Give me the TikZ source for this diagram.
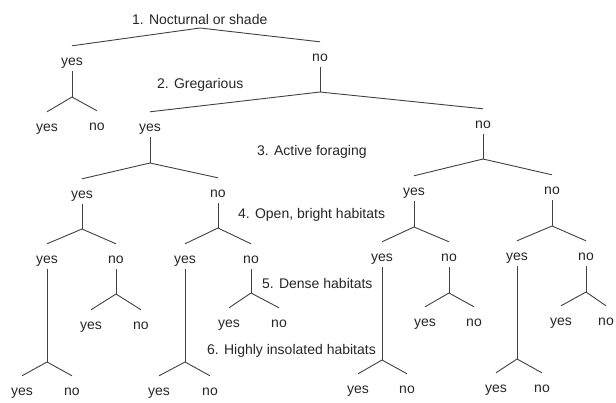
\documentclass[tikz,border=0pt]{standalone}
\usepackage{fontspec}
\setmainfont{Liberation Sans}
\usetikzlibrary{positioning}

\begin{document}
\begin{tikzpicture}[x=1pt,y=-1pt,-]
\tikzstyle{every edge}=[draw=black!75, line width=0.9pt]
\tikzstyle{answer}=[anchor=base, text=black!85, inner xsep=0pt, inner ysep=2pt,
                                    text height=17.5pt, text depth=3.5pt,
                                    font=\fontsize{14}{16}\selectfont]
\tikzstyle{question}=[anchor=base west, inner sep=0pt, text=black!85,
                                    font=\fontsize{14}{16}\selectfont]
\useasboundingbox (0,0) rectangle (616,402);
% questions
\node[question] (NOCT) at (132,24.5) {1. Nocturnal or shade};
\node[question] (GREG) at (157,88) {2. Gregarious};
\node[question] (FORAGE) at (257,155) {3. Active foraging};
\node[question] (OPEN) at (238,218) {4. Open, bright habitats};
\node[question] (DENSE) at (262,288) {5. Dense habitats};
\node[question] (SUN) at (207,354) {6. Highly insolated habitats};
% level 1
\coordinate (Q1) at (200,28);
\node[answer] (Y) at (72,65.5) {yes};
\node[answer] (N) at (320,61.5) {no};
% level 2
\coordinate (FY) at (72,97);
\node[answer] (YY) at (47,131.5) {yes};
\node[answer] (YN) at (97,130.5) {no};
\coordinate (FN) at (320,92);
\node[answer] (NY) at (150,131.5) {yes};
\node[answer] (NN) at (483,128.5) {no};
% level 3
\coordinate (FNY) at (150,163);
\node[answer] (NYY) at (82,198.5) {yes};
\node[answer] (NYN) at (218,197.5) {no};
\coordinate (FNN) at (483,159);
\node[answer] (NNY) at (414,195.5) {yes};
\node[answer] (NNN) at (552,194.5) {no};
% level 4
\coordinate (FNYY) at (82,229);
\node[answer] (NYYY) at (47,263.5) {yes};
\node[answer] (NYYN) at (116,263.5) {no};
\coordinate (FNYN) at (218,228);
\node[answer] (NYNY) at (185,263.5) {yes};
\node[answer] (NYNN) at (251,263.5) {no};
\coordinate (FNNY) at (414,227);
\node[answer] (NNYY) at (382,261.5) {yes};
\node[answer] (NNYN) at (449,261.5) {no};
\coordinate (FNNN) at (552,226);
\node[answer] (NNNY) at (517,260.5) {yes};
\node[answer] (NNNN) at (586,260.5) {no};
% level 5
\coordinate (FNYYY) at (47,362);
\node[answer] (NYYYY) at (22,395.5) {yes};
\node[answer] (NYYYN) at (72,395.5) {no};
\coordinate (FNYYN) at (116,294);
\node[answer] (NYYNY) at (91,329.5) {yes};
\node[answer] (NYYNN) at (141,329.5) {no};
\coordinate (FNYNY) at (185,362);
\node[answer] (NYNYY) at (159,395.5) {yes};
\node[answer] (NYNYN) at (210,395.5) {no};
\coordinate (FNYNN) at (251,293);
\node[answer] (NYNNY) at (229,327.5) {yes};
\node[answer] (NYNNN) at (279,327.5) {no};
\coordinate (FNNYY) at (382,360);
\node[answer] (NNYYY) at (358,393.5) {yes};
\node[answer] (NNYYN) at (407,393.5) {no};
\coordinate (FNNYN) at (449,293);
\node[answer] (NNYNY) at (425,326.5) {yes};
\node[answer] (NNYNN) at (474,326.5) {no};
\coordinate (FNNNY) at (517,359);
\node[answer] (NNNYY) at (496,392.5) {yes};
\node[answer] (NNNYN) at (542,392.5) {no};
\coordinate (FNNNN) at (586,292);
\node[answer] (NNNNY) at (561,325.5) {yes};
\node[answer] (NNNNN) at (606,325.5) {no};
\path (Q1)edge(Y.north)
                edge(N.north)
          (Y.south)edge(FY)
          (FY)edge(YY.north)
                edge(YN.north)
          (N.south)edge(FN)
          (FN)edge(NY.north)
                edge(NN.north)
          (NY.south)edge(FNY)
          (FNY)edge(NYY.north)
                edge(NYN.north)
          (NN.south)edge(FNN)
          (FNN)edge(NNY.north)
                edge(NNN.north)
          (NYY.south)edge(FNYY)
          (FNYY)edge(NYYY.north)
                edge(NYYN.north)
          (NYN.south)edge(FNYN)
          (FNYN)edge(NYNY.north)
                edge(NYNN.north)
          (NNY.south)edge(FNNY)
          (FNNY)edge(NNYY.north)
                edge(NNYN.north)
          (NNN.south)edge(FNNN)
          (FNNN)edge(NNNY.north)
                edge(NNNN.north)
          (NYYY.south)edge(FNYYY)
          (FNYYY)edge(NYYYY.north)
                edge(NYYYN.north)
          (NYYN.south)edge(FNYYN)
          (FNYYN)edge(NYYNY.north)
                edge(NYYNN.north)
          (NYNY.south)edge(FNYNY)
          (FNYNY)edge(NYNYY.north)
                edge(NYNYN.north)
          (NYNN.south)edge(FNYNN)
          (FNYNN)edge(NYNNY.north)
                edge(NYNNN.north)
          (NNYY.south)edge(FNNYY)
          (FNNYY)edge(NNYYY.north)
                edge(NNYYN.north)
          (NNYN.south)edge(FNNYN)
          (FNNYN)edge(NNYNY.north)
                edge(NNYNN.north)
          (NNNY.south)edge(FNNNY)
          (FNNNY)edge(NNNYY.north)
                edge(NNNYN.north)
          (NNNN.south)edge(FNNNN)
          (FNNNN)edge(NNNNY.north)
                edge(NNNNN.north);
\end{tikzpicture}
\end{document}
